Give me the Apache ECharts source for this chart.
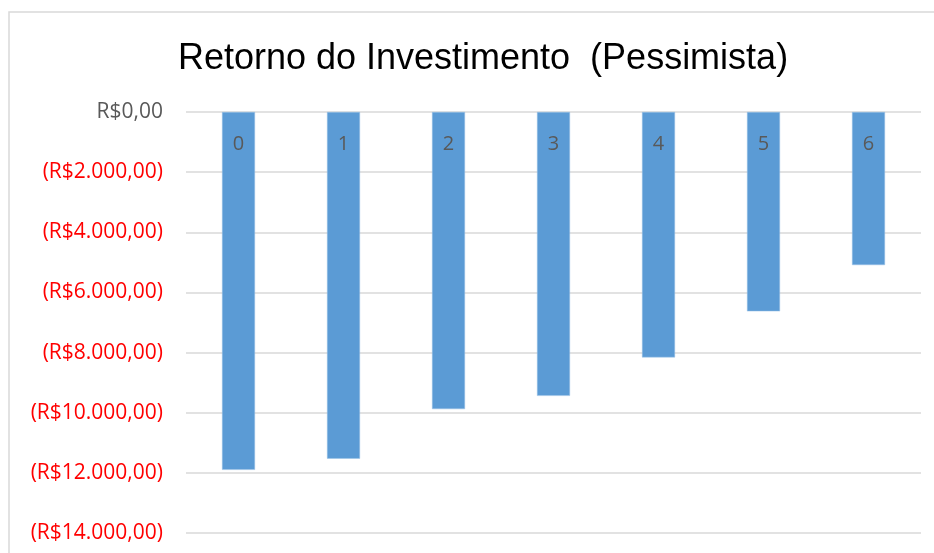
<!DOCTYPE html>
<html><head><meta charset="utf-8">
<script src="https://cdn.jsdelivr.net/npm/echarts@6/dist/echarts.min.js"></script>
<style>html,body{margin:0;padding:0;background:#fff}#c{width:934px;height:553px}</style>
</head><body><div id="c"></div>
<script>
const categories = ['0','1','2','3','4','5','6'];
const values = [-11900, -11530, -9880, -9440, -8160, -6630, -5090];
const yTicks = {min: -14000, max: 0, interval: 2000};

function fmt(v){
  const a = Math.abs(v);
  const s = a.toFixed(2).split('.');
  const ip = s[0].replace(/\B(?=(\d{3})+(?!\d))/g, '.');
  const t = 'R$' + ip + ',' + s[1];
  return v < 0 ? '(' + t + ')' : t;
}

const chart = echarts.init(document.getElementById('c'), null, {renderer:'canvas'});
chart.setOption({
  animation: false,
  backgroundColor: '#fff',
  graphic: [{type:'rect', shape:{x:9, y:12, width:1000, height:600}, style:{fill:'none', stroke:'#D9D9D9', lineWidth:1.5}, silent:true}],
  title: {text: 'Retorno do Investimento  (Pessimista)', left: 478, textAlign: 'center', top: 36,
    textStyle: {fontFamily: 'Liberation Sans', fontWeight: 'normal', fontSize: 36, color: '#000'}},
  grid: {left: 186, right: 13, top: 112, bottom: 20, outerBoundsMode: 'none', containLabel: false},
  xAxis: {type: 'category', data: categories, z: 5, position: 'top',
    axisLine: {show: false}, axisTick: {show: false},
    axisLabel: {inside: true, color: '#595959', fontSize: 20, margin: 22, fontFamily: 'Open Sans'}},
  yAxis: {type: 'value', min: yTicks.min, max: yTicks.max, interval: yTicks.interval,
    axisLine: {show: false}, axisTick: {show: false},
    splitLine: {lineStyle: {color: '#D9D9D9', width: 1.5}},
    axisLabel: {fontSize: 21, margin: 23, fontFamily: 'Open Sans',
      formatter: fmt, color: function(v){ return Number(v) < 0 ? '#FF0000' : '#595959'; }}},
  series: [{type: 'bar', data: values, barWidth: 33,
    itemStyle: {color: '#5B9BD5', borderColor: '#9DC3E6', borderWidth: 0.5}}]
});
</script></body></html>
